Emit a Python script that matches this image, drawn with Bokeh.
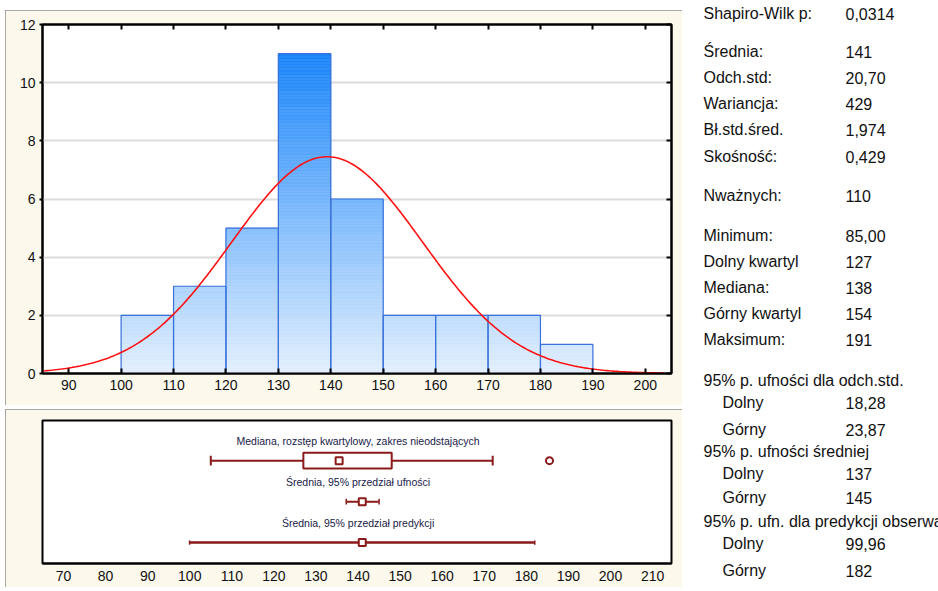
import numpy as np
from bokeh.plotting import figure
from bokeh.models import Range1d, LinearAxis, FixedTicker
from bokeh.layouts import row, column
from bokeh.embed import file_html
from bokeh.resources import INLINE
from bokeh.core.properties import value

# ---------------- data ----------------
bin_left = [100, 110, 120, 130, 140, 150, 160, 170, 180]
bin_right = [110, 120, 130, 140, 150, 160, 170, 180, 190]
counts = [2, 3, 5, 11, 6, 2, 2, 2, 1]
fit_mean = 139.3
fit_sd = 18.2
curve_start = 85.0
curve_end = 203.5

hist_xticks = [90, 100, 110, 120, 130, 140, 150, 160, 170, 180, 190, 200]
hist_yticks = [0, 2, 4, 6, 8, 10, 12]

whisker_lo = 105.0
box_q1 = 127.0
box_median = 135.5
box_q3 = 148.0
whisker_hi = 172.0
outliers = [185.5]
mean_val = 141.0
ci_lo = 137.2
ci_hi = 145.0
pred_lo = 99.96
pred_hi = 182.0
box_labels = ["Mediana, rozstęp kwartylowy, zakres nieodstających",
              "Średnia, 95% przedział ufności",
              "Średnia, 95% przedział predykcji"]
box_xticks = [70, 80, 90, 100, 110, 120, 130, 140, 150, 160, 170, 180, 190, 200, 210]

stat_names = ["Shapiro-Wilk p:", "Średnia:", "Odch.std:", "Wariancja:", "Bł.std.śred.",
              "Skośność:", "Nważnych:", "Minimum:", "Dolny kwartyl", "Mediana:",
              "Górny kwartyl", "Maksimum:", "95% p. ufności dla odch.std.", "Dolny", "Górny",
              "95% p. ufności średniej", "Dolny", "Górny",
              "95% p. ufn. dla predykcji obserwacji", "Dolny", "Górny"]
stat_values = ["0,0314", "141", "20,70", "429", "1,974", "0,429", "110", "85,00", "127",
               "138", "154", "191", "", "18,28", "23,87", "", "137", "145", "", "99,96", "182"]
stat_indent = [0, 0, 0, 0, 0, 0, 0, 0, 0, 0, 0, 0, 0, 1, 1, 0, 1, 1, 0, 1, 1]

# ---------------- style ----------------
FONT = "Liberation Sans"
CREAM = "#fdf8ec"
DARKRED = "#8b1a1a"
PANEL_STYLE = {"outline": "2px solid #8e8e8e", "outline-offset": "-2px"}

# ---------------- histogram ----------------
P1_W, P1_H = 677, 395
p1 = figure(width=P1_W, height=P1_H, min_border_left=34, min_border_right=11,
            min_border_top=14, min_border_bottom=32,
            x_range=Range1d(85, 205), y_range=Range1d(0, 12),
            output_backend="svg", toolbar_location=None,
            background_fill_color="white", border_fill_color=CREAM, styles=PANEL_STYLE)
p1.outline_line_color = "black"
p1.outline_line_width = 2
p1.xgrid.visible = False
p1.ygrid.ticker = FixedTicker(ticks=hist_yticks)
p1.ygrid.grid_line_color = "#dcdcdc"
p1.ygrid.grid_line_width = 2

for ax in p1.xaxis:
    ax.ticker = FixedTicker(ticks=hist_xticks)
    ax.major_tick_in = 5
    ax.major_tick_out = 0
for ax in p1.yaxis:
    ax.ticker = FixedTicker(ticks=hist_yticks)
    ax.major_tick_in = 0
    ax.major_tick_out = 3
for ax in list(p1.xaxis) + list(p1.yaxis):
    ax.minor_tick_line_color = None
    ax.axis_line_width = 2
    ax.major_tick_line_width = 2
    ax.major_label_text_font = FONT
    ax.major_label_text_font_size = "14px"
    ax.major_label_text_color = "#111111"
    ax.major_label_standoff = 6
p1.yaxis.major_label_standoff = 4

top_ax = LinearAxis(ticker=FixedTicker(ticks=hist_xticks),
                    major_label_overrides={t: "" for t in hist_xticks},
                    major_label_text_font_size="0px", major_label_standoff=0,
                    major_tick_in=5, major_tick_out=0, minor_tick_line_color=None,
                    axis_line_width=2, major_tick_line_width=2)
p1.add_layout(top_ax, "above")
right_ax = LinearAxis(ticker=FixedTicker(ticks=hist_yticks),
                      major_label_overrides={t: "" for t in hist_yticks},
                      major_label_text_font_size="0px", major_label_standoff=0,
                      major_tick_in=5, major_tick_out=0, minor_tick_line_color=None,
                      axis_line_width=2, major_tick_line_width=2)
p1.add_layout(right_ax, "right")

# gradient fill (vertical, by count level)
c_lo = np.array([227, 240, 253])
c_hi = np.array([26, 133, 250])
cmax = max(counts)
step = 0.05
gl, gr, gb, gt, gc = [], [], [], [], []
for l, r, c in zip(bin_left, bin_right, counts):
    n = int(round(c / step))
    for k in range(n):
        b = k * step
        t = min(b + step, c)
        f = ((b + t) / 2) / cmax
        col = c_lo + (c_hi - c_lo) * f
        gl.append(l); gr.append(r); gb.append(b); gt.append(t)
        gc.append("#%02x%02x%02x" % tuple(int(round(v)) for v in col))
p1.quad(left=gl, right=gr, bottom=gb, top=gt, fill_color=gc, line_color=gc, line_width=0.6)
p1.quad(left=bin_left, right=bin_right, bottom=0, top=counts,
        fill_color=None, line_color="#3a72dc", line_width=1.2)

# fitted normal curve
n_total = sum(counts)
bw = bin_right[0] - bin_left[0]
xc = np.linspace(curve_start, curve_end, 300)
yc = n_total * bw / (fit_sd * np.sqrt(2 * np.pi)) * np.exp(-0.5 * ((xc - fit_mean) / fit_sd) ** 2)
p1.line(xc, yc, line_color="#ff1010", line_width=1.6)

# ---------------- box / interval panel ----------------
P2_W, P2_H = 677, 178
p2 = figure(width=P2_W, height=P2_H, min_border_left=37, min_border_right=11,
            min_border_top=11, min_border_bottom=24,
            x_range=Range1d(65, 214.5), y_range=Range1d(0.49, 3.98),
            output_backend="svg", toolbar_location=None,
            background_fill_color="white", border_fill_color=CREAM, styles=PANEL_STYLE)
p2.outline_line_color = "black"
p2.outline_line_width = 2
p2.grid.visible = False
p2.yaxis.visible = False
p2.xaxis.ticker = FixedTicker(ticks=box_xticks)
p2.xaxis.major_tick_in = 0
p2.xaxis.major_tick_out = 0
p2.xaxis.minor_tick_line_color = None
p2.xaxis.axis_line_width = 2
p2.xaxis.major_label_text_font = FONT
p2.xaxis.major_label_text_font_size = "14px"
p2.xaxis.major_label_text_color = "#111111"
p2.xaxis.major_label_standoff = 7

rows_y = [3, 2, 1]
# row 1: box plot
y1 = rows_y[0]
p2.segment(x0=[whisker_lo, box_q3], y0=[y1, y1], x1=[box_q1, whisker_hi], y1=[y1, y1],
           line_color=DARKRED, line_width=2)
p2.segment(x0=[whisker_lo, whisker_hi], y0=[y1 - 0.12] * 2, x1=[whisker_lo, whisker_hi],
           y1=[y1 + 0.12] * 2, line_color=DARKRED, line_width=2)
p2.quad(left=[box_q1], right=[box_q3], bottom=[y1 - 0.19], top=[y1 + 0.19],
        fill_color="white", line_color=DARKRED, line_width=2)
p2.scatter(x=[box_median], y=[y1], marker="square", size=7, fill_color="white",
           line_color=DARKRED, line_width=2)
p2.scatter(x=outliers, y=[y1] * len(outliers), marker="circle", size=7, fill_color="white",
           line_color=DARKRED, line_width=2)
# row 2: mean with CI
y2 = rows_y[1]
p2.segment(x0=[ci_lo], y0=[y2], x1=[ci_hi], y1=[y2], line_color=DARKRED, line_width=2)
p2.segment(x0=[ci_lo, ci_hi], y0=[y2 - 0.07] * 2, x1=[ci_lo, ci_hi], y1=[y2 + 0.07] * 2,
           line_color=DARKRED, line_width=1.5)
p2.scatter(x=[mean_val], y=[y2], marker="square", size=7, fill_color="white",
           line_color=DARKRED, line_width=2)
# row 3: mean with prediction interval
y3 = rows_y[2]
p2.segment(x0=[pred_lo], y0=[y3], x1=[pred_hi], y1=[y3], line_color=DARKRED, line_width=2.5)
p2.segment(x0=[pred_lo, pred_hi], y0=[y3 - 0.05] * 2, x1=[pred_lo, pred_hi], y1=[y3 + 0.05] * 2,
           line_color=DARKRED, line_width=1.5)
p2.scatter(x=[mean_val], y=[y3], marker="square", size=7, fill_color="white",
           line_color=DARKRED, line_width=2)

label_x = 140
p2.text(x=[label_x] * 3, y=[v + 0.48 for v in rows_y], text=box_labels,
        text_align="center", text_baseline="middle", text_font=value(FONT),
        text_font_size="10.5px", text_color="#20204a")

# ---------------- statistics panel ----------------
row_y = [13, 51, 77, 103, 129, 156, 195, 235, 261, 287, 313, 339,
         380, 402, 429, 451, 473, 497, 521, 543, 570]
name_x = [703 if i == 0 else 722 for i in stat_indent]
p3 = figure(width=256, height=587, x_range=Range1d(682, 938), y_range=Range1d(587, 0),
            output_backend="svg", toolbar_location=None, min_border=0,
            background_fill_color="white", border_fill_color="white")
p3.outline_line_color = None
p3.axis.visible = False
p3.grid.visible = False
p3.text(x=name_x, y=row_y, text=stat_names, text_baseline="middle", text_align="left",
        text_font=value(FONT), text_font_size="16px", text_color="#111111")
vals = [v for v in stat_values if v]
vals_y = [y for y, v in zip(row_y, stat_values) if v]
p3.text(x=[845] * len(vals), y=vals_y, text=vals, text_baseline="middle", text_align="left",
        text_font=value(FONT), text_font_size="16px", text_color="#111111")

layout = row(column(p1, p2, spacing=4, margin=(10, 0, 0, 0)), p3, margin=(0, 0, 0, 5))
open("out.html", "w").write(file_html(layout, INLINE))
